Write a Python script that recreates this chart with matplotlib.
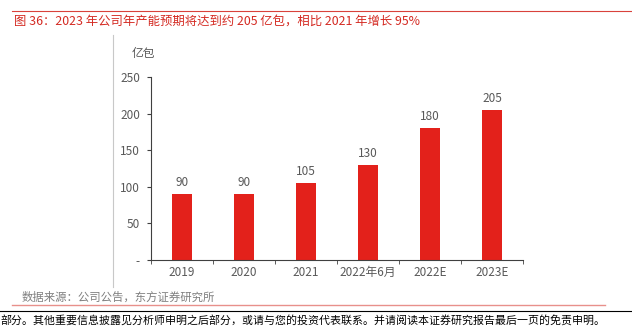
import matplotlib.pyplot as plt
import numpy as np

plt.rcParams['font.family'] = ['Noto Sans CJK SC', 'DejaVu Sans']

categories = ["2019", "2020", "2021", "2022年6月", "2022E", "2023E"]
capacity = [90, 90, 105, 130, 180, 205]
y_ticks = [0, 50, 100, 150, 200, 250]
y_tick_labels = ["-", "50", "100", "150", "200", "250"]

title = "图 36：2023 年公司年产能预期将达到约 205 亿包，相比 2021 年增长 95%"
source = "数据来源：公司公告，东方证券研究所"
footer = "部分。其他重要信息披露见分析师申明之后部分，或请与您的投资代表联系。并请阅读本证券研究报告最后一页的免责申明。"

red = "#E3211B"
gray = "#595959"

W, H = 632, 326
fig = plt.figure(figsize=(6.32, 3.26), dpi=100)

# report page decorations
fig.add_artist(plt.Line2D([12 / W, 1], [1 - 11 / H] * 2, color="#D9423B", lw=0.8))
fig.add_artist(plt.Line2D([113 / W] * 2, [1 - 35 / H, 1 - 287 / H], color="#C8C8C8", lw=0.8))
fig.add_artist(plt.Line2D([12 / W, 605 / W], [1 - 305 / H] * 2, color="#E8908B", lw=1.0))
fig.add_artist(plt.Line2D([0, 1], [1 - 311 / H] * 2, color="black", lw=0.8))
fig.text(14 / W, 1 - 21 / H, title, color="#D42A22", fontsize=8.9, va="center")
fig.text(22 / W, 1 - 297 / H, source, color="#7F7F7F", fontsize=8.2, va="center")
fig.text(0, 1 - 320 / H, footer, color="black", fontsize=7.9, va="center")

ax = fig.add_axes([151 / W, 1 - 260 / H, 372 / W, 183 / H])
x = np.arange(len(categories))
ax.bar(x, capacity, width=0.32, color=red)
for xi, v in zip(x, capacity):
    ax.text(xi, v + 7, str(v), ha="center", va="bottom", color=gray, fontsize=8.5)

ax.set_xlim(-0.5, len(categories) - 0.5)
ax.set_ylim(0, 250)
ax.set_yticks(y_ticks)
ax.set_yticklabels(y_tick_labels, color=gray, fontsize=8.5)
ax.set_xticks(x)
ax.set_xticklabels(categories, color=gray, fontsize=8.5)
ax.tick_params(axis="x", length=0, pad=4)
ax.set_xticks(np.arange(-0.5, len(categories)), minor=True)
ax.tick_params(axis="x", which="minor", length=3, direction="out", color="#404040")
ax.tick_params(axis="y", length=3, direction="out", color="#404040", pad=5)
for s in ["top", "right"]:
    ax.spines[s].set_visible(False)
ax.spines["left"].set_color("#404040")
ax.spines["bottom"].set_color("#404040")
fig.text(143 / W, 1 - 54 / H, "亿包", ha="center", va="center", color=gray, fontsize=8.5)

fig.savefig("out.png", dpi=100)
